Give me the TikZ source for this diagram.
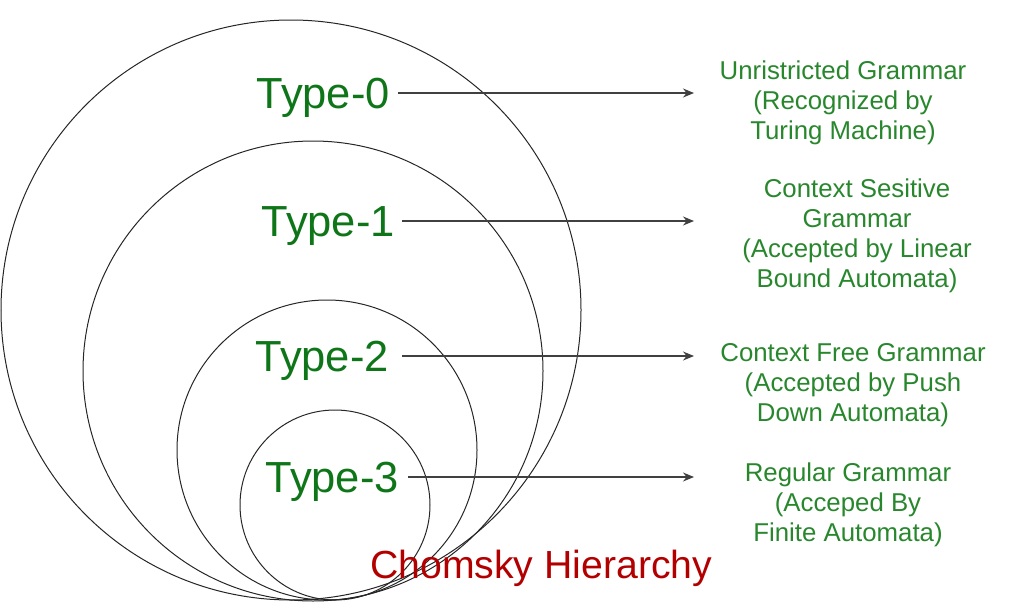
\documentclass[tikz,border=0pt]{standalone}
\usepackage{fontspec}
\setmainfont{Liberation Sans}
\usetikzlibrary{arrows.meta}
\definecolor{typegreen}{RGB}{14,118,24}
\definecolor{descgreen}{RGB}{40,135,45}
\definecolor{titlered}{RGB}{178,0,0}
\tikzset{
  ring/.style={draw=black!85, line width=1pt},
  typelabel/.style={text=typegreen, inner sep=0pt, anchor=base east, font=\fontsize{43.5}{50}\selectfont},
  desc/.style={text=descgreen, inner sep=0pt, align=center, font=\fontsize{25.8}{30}\selectfont},
  conn/.style={draw=black!75, line width=1.3pt, -{Stealth[length=11pt,width=9pt]}},
}
\begin{document}
\begin{tikzpicture}[x=1pt,y=-1pt]
\useasboundingbox (0,0) rectangle (1009,613);
% nested circles
\draw[ring] (291,310) circle[radius=290pt];
\draw[ring] (313,371) circle[radius=230pt];
\draw[ring] (327,450) circle[radius=150pt];
\draw[ring] (335,505) circle[radius=95pt];
% type labels
\node[typelabel] (t0) at (390,108) {Type-0};
\node[typelabel] (t1) at (395,236) {Type-1};
\node[typelabel] (t2) at (389,371) {Type-2};
\node[typelabel] (t3) at (399,492) {Type-3};
% descriptions
\node[desc] (d0) at (843,103) {Unristricted Grammar\\(Recognized by\\Turing Machine)};
\node[desc] (d1) at (857,236) {Context Sesitive\\Grammar\\(Accepted by Linear\\Bound Automata)};
\node[desc] (d2) at (853,385) {Context Free Grammar\\(Accepted by Push\\Down Automata)};
\node[desc] (d3) at (848,505) {Regular Grammar\\(Acceped By\\Finite Automata)};
% arrow ends
\coordinate (a0) at (694,93);
\coordinate (a1) at (694,221);
\coordinate (a2) at (694,356);
\coordinate (a3) at (694,477);
\draw[conn] ([xshift=8pt,yshift=15pt]t0.base east) -- (a0);
\draw[conn] ([xshift=7pt,yshift=15pt]t1.base east) -- (a1);
\draw[conn] ([xshift=13pt,yshift=15pt]t2.base east) -- (a2);
\draw[conn] ([xshift=9pt,yshift=15pt]t3.base east) -- (a3);
% title
\node[text=titlered, inner sep=0pt, anchor=base west, font=\fontsize{39.2}{44}\selectfont] (title) at (370,578) {Chomsky Hierarchy};
\end{tikzpicture}
\end{document}
